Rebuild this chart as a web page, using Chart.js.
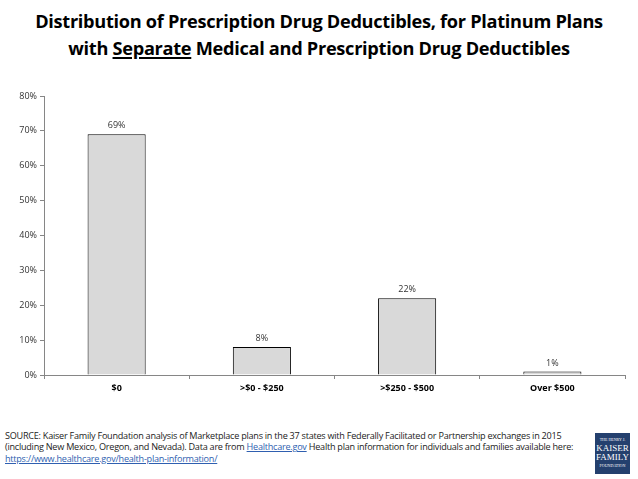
<!DOCTYPE html>
<html>
<head>
<meta charset="utf-8">
<script src="https://cdn.jsdelivr.net/npm/chart.js@4"></script>
<style>
  body { margin: 0; background: #fff; width: 638px; height: 479px; overflow: hidden; position: relative; font-family: "Open Sans", sans-serif; }
  #title { position: absolute; top: 8px; left: 0; width: 638px; text-align: center; font-weight: bold; font-size: 18.2px; line-height: 26.5px; color: #000; letter-spacing: -0.3px; }
  #title u { text-decoration-thickness: 1.5px; text-underline-offset: 2px; }
  #wrap { position: absolute; left: 0; top: 86px; width: 627px; height: 314px; }
  #source { position: absolute; left: 5px; top: 430px; width: 590px; font-size: 9.1px; line-height: 11.3px; color: #222; letter-spacing: -0.25px; white-space: nowrap; }
  #source a { color: #2f5fb0; text-decoration: underline; }
  #logo { position: absolute; left: 595px; top: 433px; width: 35px; height: 41px; background: #24406e; color: #fff; font-family: "Liberation Serif", serif; text-align: center; }
  #logo div { line-height: 1; }
</style>
</head>
<body>
<div id="title">Distribution of Prescription Drug Deductibles, for Platinum Plans<br>with <u>Separate</u> Medical and Prescription Drug Deductibles</div>
<div id="wrap"><canvas id="myChart"></canvas></div>
<div id="source">SOURCE: Kaiser Family Foundation analysis of Marketplace plans in the 37 states with Federally Facilitated or Partnership exchanges in 2015<br>(including New Mexico, Oregon, and Nevada). Data are from <a>Healthcare.gov</a> Health plan information for individuals and families available here:<br><a>https://www.healthcare.gov/health-plan-information/</a></div>
<div id="logo">
  <div style="font-size:4px;padding-top:5px;">THE HENRY J.</div>
  <div style="font-size:9px;margin-top:2px;">KAISER</div>
  <div style="font-size:9px;">FAMILY</div>
  <div style="font-size:4px;margin-top:2px;">FOUNDATION</div>
</div>
<script>
'use strict';

const categories = ['$0', '>$0 - $250', '>$250 - $500', 'Over $500'];
const shares = [69, 8, 22, 1];
const yTicks = [0, 10, 20, 30, 40, 50, 60, 70, 80];

const ctx = document.getElementById('myChart');

const barLabels = {
  id: 'barLabels',
  afterDatasetsDraw(chart) {
    let c = chart.ctx;
    let meta = chart.getDatasetMeta(0);
    c.save();
    c.font = '9px "Open Sans", sans-serif';
    c.fillStyle = '#333';
    c.textAlign = 'center';
    c.textBaseline = 'bottom';
    meta.data.forEach((bar, i) => {
      c.fillText(shares[i] + '%', bar.x, bar.y - 4);
    });
    c.restore();
  }
};

new Chart(ctx, {
  type: 'bar',
  data: {
    labels: categories,
    datasets: [{
      data: shares,
      backgroundColor: '#d9d9d9',
      borderColor: '#000',
      borderWidth: 1,
      borderSkipped: 'bottom',
      categoryPercentage: 1,
      barPercentage: 0.4
    }]
  },
  options: {
    responsive: true,
    maintainAspectRatio: false,
    animation: false,
    layout: { padding: { top: 10, right: 2 } },
    plugins: {
      legend: { display: false },
      tooltip: { enabled: false }
    },
    scales: {
      x: {
        grid: { drawOnChartArea: false, color: '#868686', tickLength: 4, offset: true },
        border: { color: '#868686' },
        ticks: { color: '#000', font: { family: '"Open Sans", sans-serif', size: 9, weight: 'bold' }, padding: 4 },
        afterFit(scale) { scale.height = 25; }
      },
      y: {
        min: 0,
        max: 80,
        afterBuildTicks(scale) { scale.ticks = yTicks.map(v => ({ value: v })); },
        grid: { drawOnChartArea: false, color: '#868686', tickLength: 4 },
        border: { color: '#868686' },
        ticks: { color: '#333', font: { family: '"Open Sans", sans-serif', size: 9 }, padding: 3, callback: v => v + '%' },
        afterFit(scale) { scale.width = 44; }
      }
    }
  },
  plugins: [barLabels]
});
</script>
</body>
</html>
